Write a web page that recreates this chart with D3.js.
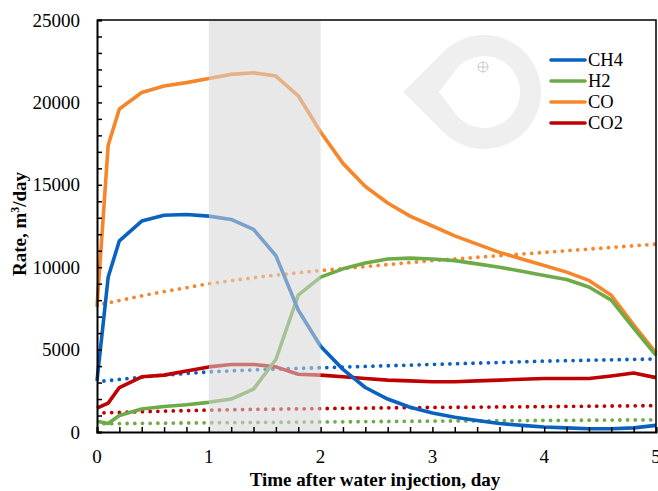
<!DOCTYPE html>
<html>
<head>
<meta charset="utf-8">
<script src="https://cdn.jsdelivr.net/npm/d3@7"></script>
<style>
  body { margin: 0; background: #fff; }
  svg { display: block; }
</style>
</head>
<body>
<svg width="658" height="491"></svg>
<script>
// time grid of the measured curves, day
var days = [0, 0.1, 0.2, 0.4, 0.6, 0.8, 1.0, 1.2, 1.4, 1.6, 1.8, 2.0, 2.2, 2.4, 2.6, 2.8, 3.0,
            3.2, 3.4, 3.6, 3.8, 4.0, 4.2, 4.4, 4.6, 4.8, 5.0];

var ch4 = [3100, 9400, 11600, 12800, 13150, 13200, 13100, 12900, 12300, 10700, 7400, 5200, 3800,
           2700, 2000, 1500, 1150, 900, 700, 520, 400, 300, 250, 200, 200, 250, 400];
var h2  = [650, 520, 1000, 1400, 1550, 1650, 1800, 2000, 2600, 4400, 8300, 9400, 9900,
           10250, 10500, 10550, 10500, 10400, 10200, 10000, 9750, 9500, 9250, 8800, 8000, 6300, 4650];
var co  = [7600, 17400, 19600, 20600, 21000, 21200, 21450, 21700, 21800, 21600, 20400, 18200, 16300,
           14900, 13900, 13100, 12500, 11900, 11400, 10900, 10500, 10100, 9700, 9200, 8300, 6500, 4800];
var co2 = [1450, 1750, 2700, 3350, 3450, 3700, 3950, 4100, 4100, 3950, 3500, 3450, 3350,
           3250, 3150, 3100, 3050, 3050, 3100, 3150, 3200, 3250, 3250, 3250, 3400, 3580, 3300];

// dotted reference curves
var refDays = [0, 0.5, 1, 1.5, 2, 2.5, 3, 3.5, 4, 4.5, 5];
var ch4Ref = [3050, 3400, 3650, 3800, 3900, 4000, 4100, 4200, 4300, 4370, 4430];
var h2Ref  = [500, 530, 560, 585, 610, 635, 660, 680, 700, 720, 740];
var coRef  = [7700, 8400, 9000, 9450, 9800, 10100, 10400, 10650, 10900, 11150, 11400];
var co2Ref = [1150, 1250, 1330, 1380, 1420, 1460, 1490, 1515, 1540, 1570, 1600];

var gases = ["CH4", "H2", "CO", "CO2"];
var colors = ["#0a62c0", "#6dab48", "#f7862b", "#c00000"];
var yTicks = [0, 5000, 10000, 15000, 20000, 25000];
var xTicks = [0, 1, 2, 3, 4, 5];
var band = [1, 2];

draw();

function draw() {
  var svg = d3.select("svg"),
      mLeft = 97, mRight = 656, mTop = 20, mBottom = 432;

  var x = d3.scaleLinear().domain([0, 5]).range([mLeft, mRight]);
  var y = d3.scaleLinear().domain([0, 25000]).range([mBottom, mTop]);

  // watermark
  var wm = svg.append("g").attr("transform", "translate(484,92)");
  var R = 57, r = 36;
  wm.append("path")
      .attr("fill", "#efefef")
      .attr("fill-rule", "evenodd")
      .attr("d", function() {
        var a = Math.acos(R / 81);
        var p = "M-81,0 L" + (-R * Math.cos(a)) + "," + (-R * Math.sin(a)) +
                " A" + R + "," + R + " 0 1 1 " + (-R * Math.cos(a)) + "," + (R * Math.sin(a)) + " Z";
        var b = Math.acos(r / 45);
        p += " M-45,0 L" + (-r * Math.cos(b)) + "," + (-r * Math.sin(b)) +
             " A" + r + "," + r + " 0 1 1 " + (-r * Math.cos(b)) + "," + (r * Math.sin(b)) + " Z";
        return p;
      });
  wm.append("circle").attr("cx", -1).attr("cy", -25).attr("r", 5)
      .attr("fill", "none").attr("stroke", "#bbb").attr("stroke-width", 0.8);
  wm.append("path").attr("d", "M-6,-25H4M-1,-30V-20").attr("stroke", "#bbb").attr("stroke-width", 0.8);

  var line = d3.line()
      .x(function(d) { return x(d[0]); })
      .y(function(d) { return y(d[1]); });

  var solid = [ch4, h2, co, co2];
  var refs = [ch4Ref, h2Ref, coRef, co2Ref];

  // dotted curves
  refs.forEach(function(s, i) {
    svg.append("path")
        .datum(refDays.map(function(t, j) { return [t, s[j]]; }))
        .attr("d", line)
        .attr("fill", "none")
        .attr("stroke", colors[i])
        .attr("stroke-width", 3.8)
        .attr("stroke-linecap", "round")
        .attr("stroke-dasharray", "0,7.7")
        .attr("stroke-dashoffset", -7);
  });

  // measured curves (CO2 under, CH4 on top)
  [3, 2, 1, 0].forEach(function(i) {
    svg.append("path")
        .datum(days.map(function(t, j) { return [t, solid[i][j]]; }))
        .attr("d", line)
        .attr("fill", "none")
        .attr("stroke", colors[i])
        .attr("stroke-width", 3.6)
        .attr("stroke-linejoin", "round");
  });

  // shaded period drawn over the curves
  svg.append("rect")
      .attr("x", x(band[0])).attr("y", mTop)
      .attr("width", x(band[1]) - x(band[0])).attr("height", mBottom - mTop)
      .attr("fill", "#d6d6d6").attr("opacity", 0.55);

  // frame
  svg.append("path")
      .attr("d", "M" + mLeft + "," + mTop + "H" + mRight + "V" + mBottom)
      .attr("fill", "none").attr("stroke", "#000").attr("stroke-width", 1.5);

  var yAxis = svg.append("g")
      .attr("transform", "translate(" + mLeft + ",0)")
      .call(d3.axisRight(y).ticks(25).tickSize(5).tickFormat(""));
  var xAxis = svg.append("g")
      .attr("transform", "translate(0," + mBottom + ")")
      .call(d3.axisTop(x).ticks(25).tickSize(5).tickFormat(""));
  [yAxis, xAxis].forEach(function(a) {
    a.select(".domain").attr("stroke-width", 2);
    a.selectAll(".tick line").attr("stroke-width", 1.5);
  });

  svg.selectAll(".ylab").data(yTicks).enter().append("text")
      .attr("x", 80).attr("y", function(d) { return y(d); })
      .attr("dy", "0.35em").attr("text-anchor", "end")
      .attr("font-family", "Liberation Serif").attr("font-size", 19)
      .text(function(d) { return d; });

  svg.selectAll(".xlab").data(xTicks).enter().append("text")
      .attr("x", function(d) { return x(d); }).attr("y", 456)
      .attr("dy", "0.35em").attr("text-anchor", "middle")
      .attr("font-family", "Liberation Serif").attr("font-size", 19)
      .text(function(d) { return d; });

  svg.append("text")
      .attr("x", 375).attr("y", 486)
      .attr("text-anchor", "middle")
      .attr("font-family", "Liberation Serif").attr("font-size", 19).attr("font-weight", "bold")
      .text("Time after water injection, day");

  var yt = svg.append("text")
      .attr("transform", "translate(26,224) rotate(-90)")
      .attr("text-anchor", "middle")
      .attr("font-family", "Liberation Serif").attr("font-size", 19).attr("font-weight", "bold");
  yt.append("tspan").text("Rate, m");
  yt.append("tspan").attr("font-size", 12).attr("dy", -7).text("3");
  yt.append("tspan").attr("dy", 7).text("/day");

  // legend
  var lg = svg.selectAll(".lg").data(gases).enter().append("g")
      .attr("transform", function(d, i) { return "translate(551," + (60 + i * 21) + ")"; });
  lg.append("line").attr("x1", 0).attr("x2", 34)
      .attr("stroke", function(d, i) { return colors[i]; })
      .attr("stroke-width", 3.6).attr("stroke-linecap", "round");
  lg.append("text").attr("x", 37).attr("dy", "0.35em")
      .attr("font-family", "Liberation Serif").attr("font-size", 18.5)
      .text(function(d) { return d; });
}
</script>
</body>
</html>
